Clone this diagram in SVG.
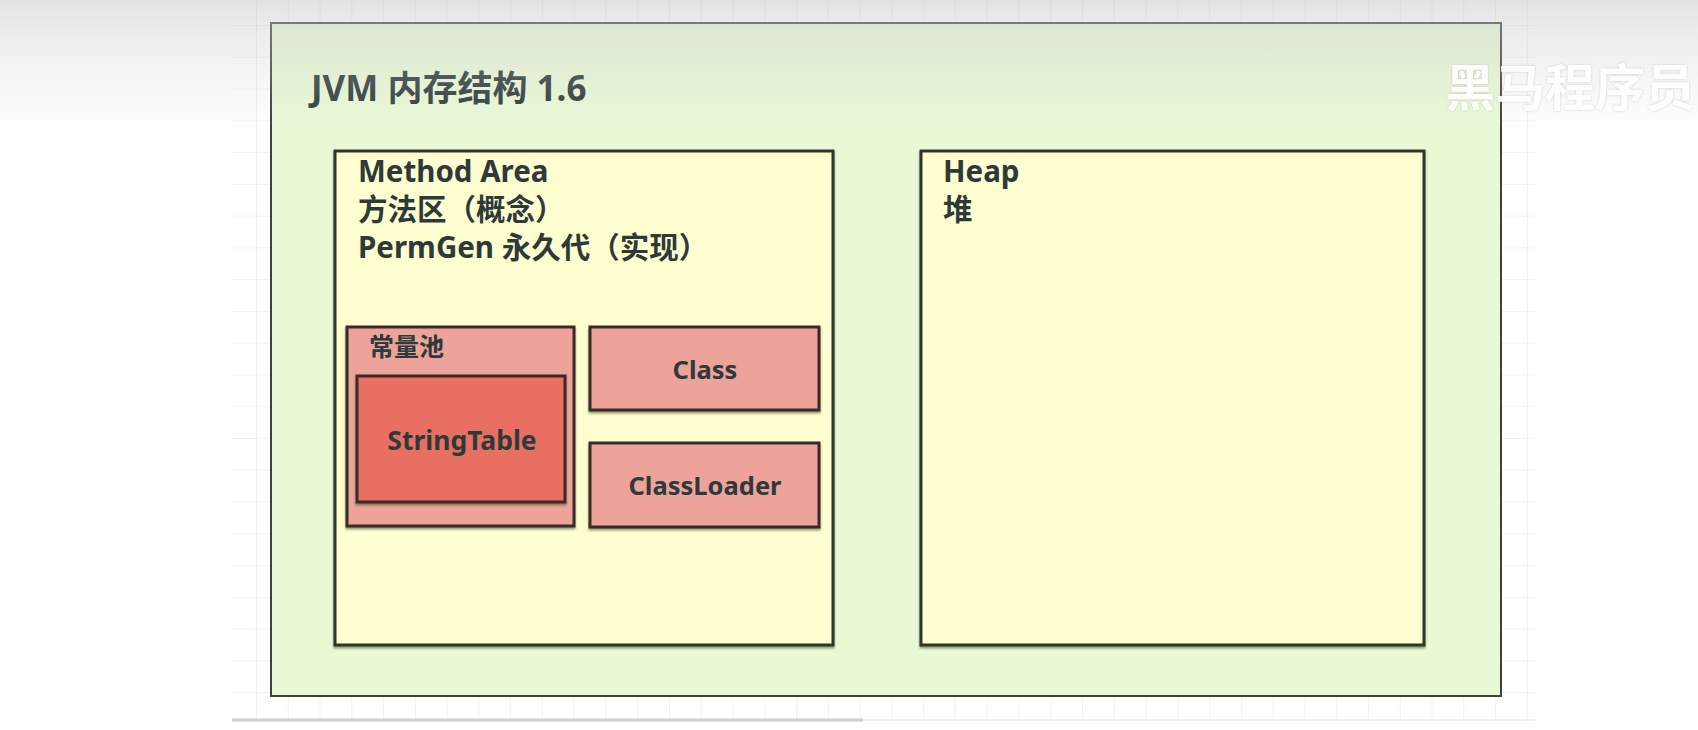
<svg xmlns="http://www.w3.org/2000/svg" width="1698" height="730" viewBox="0 0 1698 730">
  <defs>
    <pattern id="grid" x="256" y="25" width="31.77" height="31.77" patternUnits="userSpaceOnUse">
      <path d="M0 0 V31.77 M0 0 H31.77" fill="none" stroke="#e6e6e6" stroke-width="1.2"/>
    </pattern>
    <linearGradient id="topShade" x1="0" y1="0" x2="0" y2="1">
      <stop offset="0" stop-color="#c8c8c8" stop-opacity="0.5"/>
      <stop offset="0.6" stop-color="#d0d0d0" stop-opacity="0.2"/>
      <stop offset="1" stop-color="#d0d0d0" stop-opacity="0"/>
    </linearGradient>
    <filter id="shadow" x="-5%" y="-5%" width="110%" height="115%">
      <feDropShadow dx="0" dy="2" stdDeviation="1" flood-color="#4a5a30" flood-opacity="0.6"/>
    </filter>
    <filter id="wm" x="-5%" y="-20%" width="110%" height="140%">
      <feDropShadow dx="0" dy="0" stdDeviation="1.2" flood-color="#9a9a9a" flood-opacity="0.5"/>
    </filter>
  </defs>
  <style>
    text { font-family: "Noto Sans", "Noto Sans CJK SC", sans-serif; font-weight: bold; fill: #2e3a3a; }
    .outer { fill: #e9f9d6; stroke: #3c4238; stroke-width: 2; }
    .area { fill: #fefed0; stroke: #2f3529; stroke-width: 3; }
    .pink { fill: #eda39a; stroke: #3a2a26; stroke-width: 3; }
    .red { fill: #e87062; stroke: #3a2a26; stroke-width: 3; }
    .t-title { font-size: 35px; }
    .t-area { font-size: 29.5px; }
    .t-box { font-size: 25.5px; text-anchor: middle; }
    .t-pool { font-size: 25px; }
  </style>

  <!-- canvas background -->
  <rect x="0" y="0" width="1698" height="730" fill="#ffffff"/>
  <rect x="232" y="0" width="1303" height="720" fill="url(#grid)"/>
  <line x1="232" y1="720" x2="863" y2="720" stroke="#cfcfcf" stroke-width="3"/>
  <line x1="863" y1="720" x2="1535" y2="720" stroke="#f0f0f0" stroke-width="2"/>

  <g id="jvm">
    <rect class="outer" x="271" y="23" width="1230" height="673"/>
    <text class="t-title" x="311" y="101">JVM 内存结构 1.6</text>
  </g>

  <g id="method-area">
    <rect class="area" x="335" y="151" width="498" height="494" filter="url(#shadow)"/>
    <text class="t-area" x="358" y="182">Method Area</text>
    <text class="t-area" x="358" y="220">方法区（概念）</text>
    <text class="t-area" x="358" y="258">PermGen 永久代（实现）</text>
  </g>

  <g id="heap">
    <rect class="area" x="921" y="151" width="503" height="494" filter="url(#shadow)"/>
    <text class="t-area" x="943" y="182">Heap</text>
    <text class="t-area" x="943" y="220">堆</text>
  </g>

  <g id="constant-pool">
    <rect class="pink" x="347" y="327" width="227" height="199" filter="url(#shadow)"/>
    <text class="t-pool" x="369" y="356">常量池</text>
  </g>

  <g id="string-table">
    <rect class="red" x="357" y="376" width="208" height="126" filter="url(#shadow)"/>
    <text class="t-box" x="462" y="450" style="font-size:26.5px">StringTable</text>
  </g>

  <g id="class">
    <rect class="pink" x="590" y="327" width="229" height="83" filter="url(#shadow)"/>
    <text class="t-box" x="705" y="379">Class</text>
  </g>

  <g id="classloader">
    <rect class="pink" x="590" y="443" width="229" height="84" filter="url(#shadow)"/>
    <text class="t-box" x="705" y="495">ClassLoader</text>
  </g>

  <g id="connectors"></g>

  <!-- top shading and watermark -->
  <rect x="0" y="0" width="1698" height="130" fill="url(#topShade)"/>
  <text x="1445" y="106" filter="url(#wm)" style="font-size:50px; fill:#ffffff; opacity:0.95; font-family:'Noto Sans CJK SC', sans-serif;">黑马程序员</text>
</svg>
